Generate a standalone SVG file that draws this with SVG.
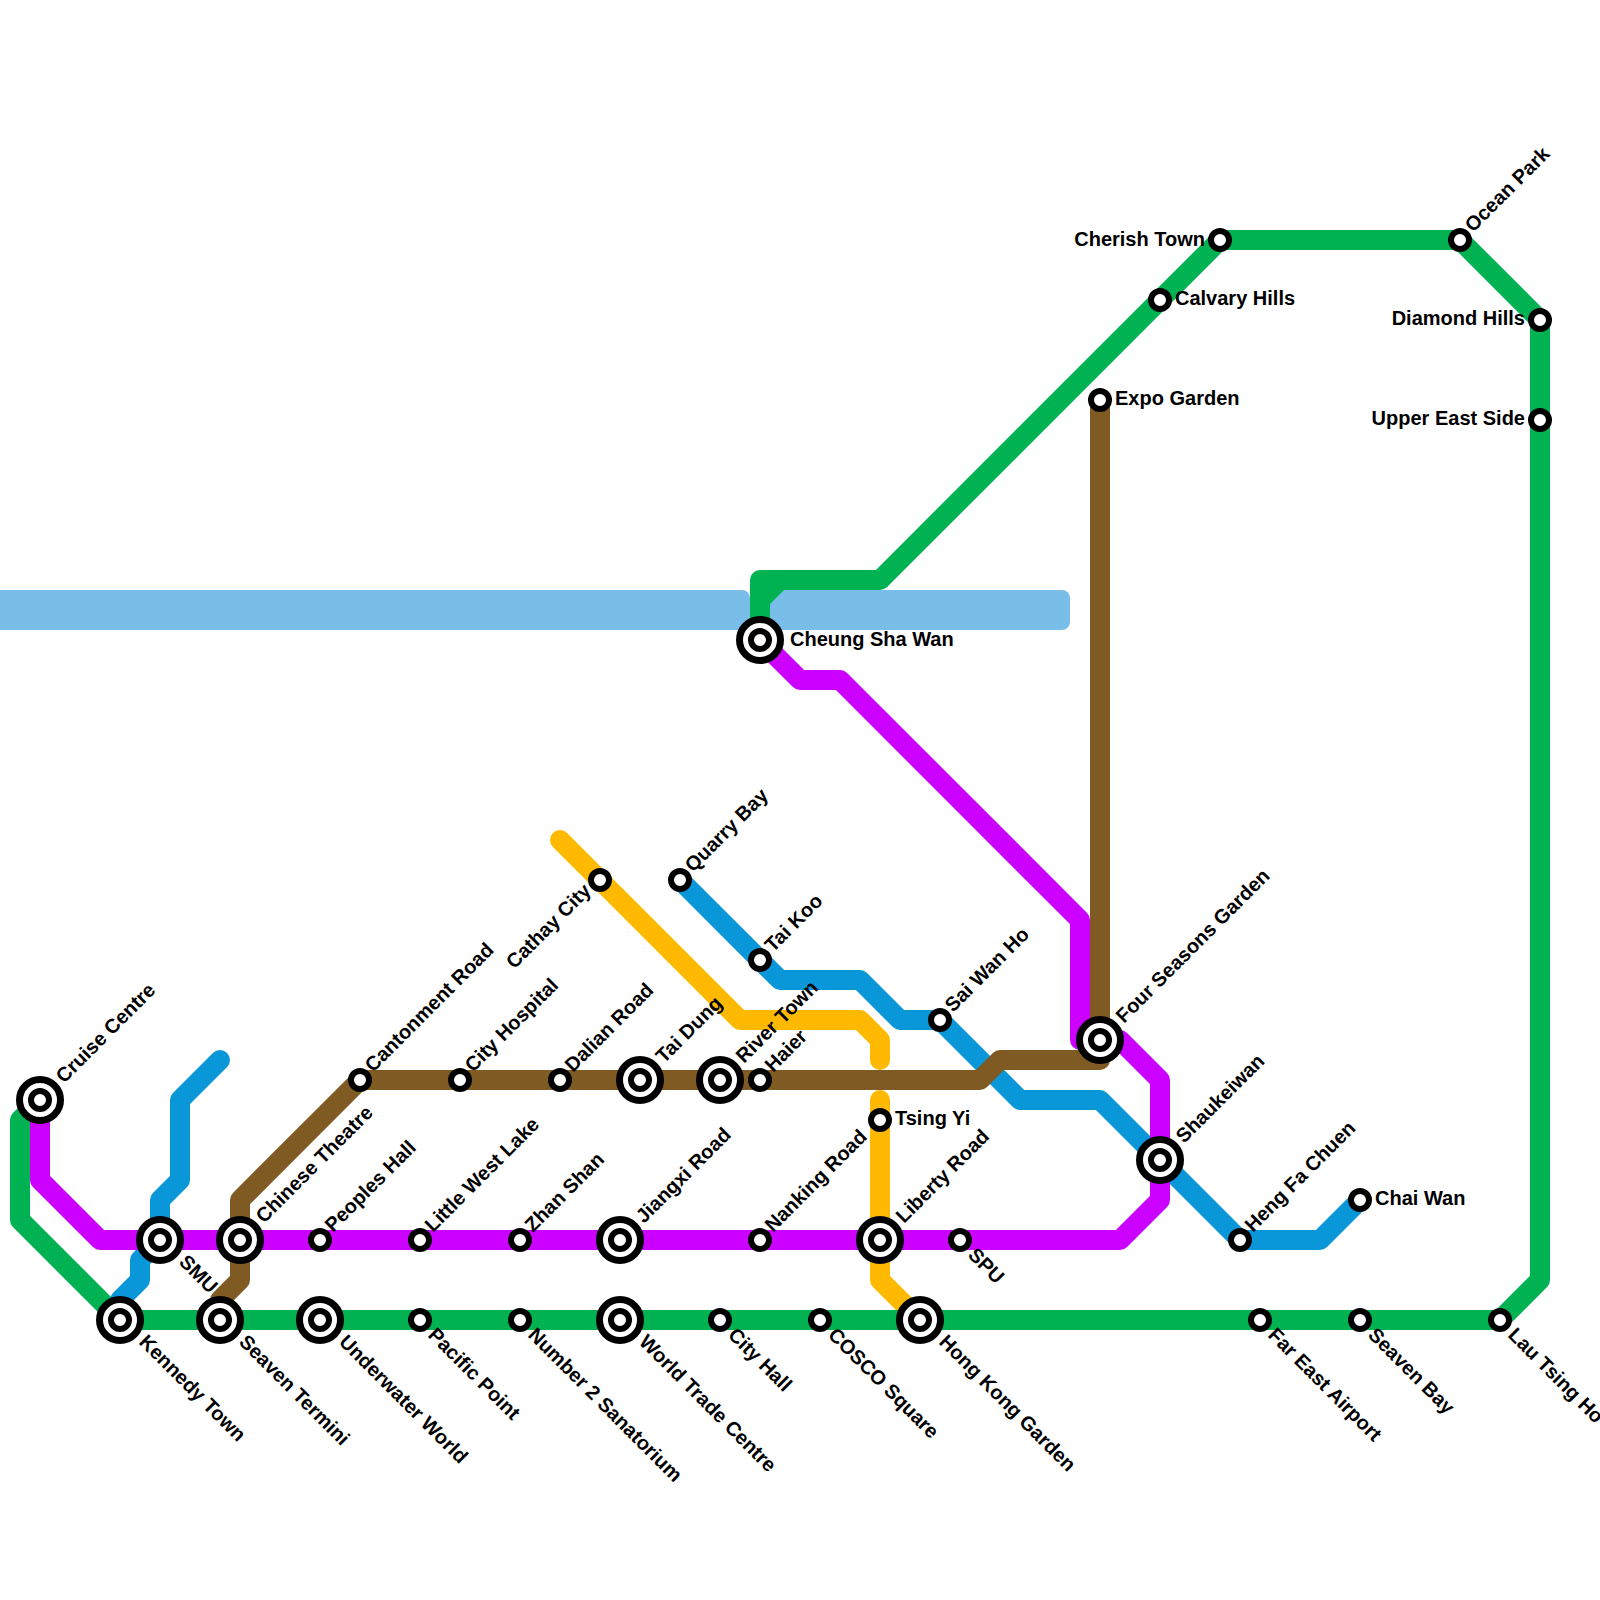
<svg xmlns="http://www.w3.org/2000/svg" width="1600" height="1600" viewBox="0 0 1600 1600">
<style>
text{font-family:"Liberation Sans",Arial,sans-serif;font-weight:700;font-size:20px;fill:#000}
.e{text-anchor:end}
.w{fill:#79bde9}
.l{fill:none;stroke-width:20;stroke-linecap:round;stroke-linejoin:round}
.g{stroke:#00b251}.p{stroke:#cc00ff}.b{stroke:#0a97d9}.n{stroke:#7f5a22}.y{stroke:#ffb900}
.r{fill:#fff;stroke:#000;stroke-width:6}
.o{fill:#fff;stroke:#000;stroke-width:7}
</style>
<defs>
<g id="S"><circle class="r" r="9"/></g>
<g id="B"><circle class="o" r="20.5"/><circle class="r" r="9"/></g>
</defs>
<g id="water"><rect class="w" x="-20" y="590" width="770" height="40" rx="8"/><rect class="w" x="750" y="590" width="320" height="40" rx="8"/></g>
<g id="connectors">
<path class="l y" d="M560 840L740 1020H860L880 1040V1060"/>
<path class="l y" d="M880 1100V1280L920 1320"/>
<path class="l g" d="M40 1100L20 1120V1220L120 1320H1500L1540 1280V320L1460 240H1220L880 580H760V640"/>
<path class="l g" d="M780 580L760 600V640"/>
<path class="l b" d="M680 880L780 980H860L900 1020H940L1020 1100H1100L1240 1240H1320L1360 1200"/>
<path class="l b" d="M220 1060L180 1100V1180L160 1200V1240L140 1260V1280L120 1300V1320"/>
<path class="l p" d="M40 1100V1180L100 1240H1120L1160 1200V1080L1120 1040H1080V920L840 680H800L760 640"/>
<path class="l n" d="M220 1320V1300L240 1280V1200L360 1080H980L1000 1060H1100V400"/>
</g>
<g id="n1"><use href="#B" x="40" y="1100"/><text transform="translate(64 1084) rotate(-45)">Cruise Centre</text></g>
<g id="n2"><use href="#B" x="120" y="1320"/><text transform="translate(138 1343) rotate(45)">Kennedy Town</text></g>
<g id="n3"><use href="#B" x="220" y="1320"/><text transform="translate(238 1343) rotate(45)">Seaven Termini</text></g>
<g id="n4"><use href="#B" x="320" y="1320"/><text transform="translate(338 1343) rotate(45)">Underwater World</text></g>
<g id="n5"><use href="#S" x="420" y="1320"/><text transform="translate(427 1336) rotate(45)">Pacific Point</text></g>
<g id="n6"><use href="#S" x="520" y="1320"/><text transform="translate(527 1336) rotate(45)">Number 2 Sanatorium</text></g>
<g id="n7"><use href="#B" x="620" y="1320"/><text transform="translate(638 1343) rotate(45)">World Trade Centre</text></g>
<g id="n8"><use href="#S" x="720" y="1320"/><text transform="translate(727 1336) rotate(45)">City Hall</text></g>
<g id="n9"><use href="#S" x="820" y="1320"/><text transform="translate(827 1336) rotate(45)">COSCO Square</text></g>
<g id="n10"><use href="#B" x="920" y="1320"/><text transform="translate(938 1343) rotate(45)">Hong Kong Garden</text></g>
<g id="n11"><use href="#S" x="1260" y="1320"/><text transform="translate(1267 1336) rotate(45)">Far East Airport</text></g>
<g id="n12"><use href="#S" x="1360" y="1320"/><text transform="translate(1367 1336) rotate(45)">Seaven Bay</text></g>
<g id="n13"><use href="#S" x="1500" y="1320"/><text transform="translate(1507 1336) rotate(45)">Lau Tsing Ho</text></g>
<g id="n14"><use href="#S" x="1460" y="240"/><text transform="translate(1473 233) rotate(-45)">Ocean Park</text></g>
<g id="n15"><use href="#S" x="1220" y="240"/><text class="e" x="1205" y="246">Cherish Town</text></g>
<g id="n16"><use href="#S" x="1160" y="300"/><text x="1175" y="305">Calvary Hills</text></g>
<g id="n17"><use href="#S" x="1100" y="400"/><text x="1115" y="405">Expo Garden</text></g>
<g id="n18"><use href="#S" x="1540" y="320"/><text class="e" x="1525" y="325">Diamond Hills</text></g>
<g id="n19"><use href="#S" x="1540" y="420"/><text class="e" x="1525" y="425">Upper East Side</text></g>
<g id="n20"><use href="#S" x="1360" y="1200"/><text x="1375" y="1205">Chai Wan</text></g>
<g id="n21"><use href="#S" x="1240" y="1240"/><text transform="translate(1253 1233) rotate(-45)">Heng Fa Chuen</text></g>
<g id="n22"><use href="#B" x="1160" y="1160"/><text transform="translate(1184 1144) rotate(-45)">Shaukeiwan</text></g>
<g id="n23"><use href="#B" x="1100" y="1040"/><text transform="translate(1124 1024) rotate(-45)">Four Seasons Garden</text></g>
<g id="n24"><use href="#S" x="940" y="1020"/><text transform="translate(953 1013) rotate(-45)">Sai Wan Ho</text></g>
<g id="n25"><use href="#S" x="880" y="1120"/><text x="895" y="1125">Tsing Yi</text></g>
<g id="n26"><use href="#B" x="880" y="1240"/><text transform="translate(904 1224) rotate(-45)">Liberty Road</text></g>
<g id="n27"><use href="#S" x="960" y="1240"/><text transform="translate(967 1256) rotate(45)">SPU</text></g>
<g id="n28"><use href="#S" x="760" y="1240"/><text transform="translate(773 1233) rotate(-45)">Nanking Road</text></g>
<g id="n29"><use href="#S" x="760" y="1080"/><text transform="translate(773 1073) rotate(-45)">Haier</text></g>
<g id="n30"><use href="#B" x="720" y="1080"/><text transform="translate(744 1064) rotate(-45)">River Town</text></g>
<g id="n31"><use href="#B" x="640" y="1080"/><text transform="translate(664 1064) rotate(-45)">Tai Dung</text></g>
<g id="n32"><use href="#S" x="560" y="1080"/><text transform="translate(573 1073) rotate(-45)">Dalian Road</text></g>
<g id="n33"><use href="#S" x="460" y="1080"/><text transform="translate(473 1073) rotate(-45)">City Hospital</text></g>
<g id="n34"><use href="#S" x="360" y="1080"/><text transform="translate(373 1073) rotate(-45)">Cantonment Road</text></g>
<g id="n35"><use href="#S" x="600" y="880"/><text class="e" transform="translate(592 892) rotate(-45)">Cathay City</text></g>
<g id="n36"><use href="#S" x="680" y="880"/><text transform="translate(693 873) rotate(-45)">Quarry Bay</text></g>
<g id="n37"><use href="#S" x="760" y="960"/><text transform="translate(773 953) rotate(-45)">Tai Koo</text></g>
<g id="n38"><use href="#B" x="760" y="640"/><text x="790" y="646">Cheung Sha Wan</text></g>
<g id="n39"><use href="#B" x="620" y="1240"/><text transform="translate(644 1224) rotate(-45)">Jiangxi Road</text></g>
<g id="n40"><use href="#S" x="520" y="1240"/><text transform="translate(533 1233) rotate(-45)">Zhan Shan</text></g>
<g id="n41"><use href="#S" x="420" y="1240"/><text transform="translate(433 1233) rotate(-45)">Little West Lake</text></g>
<g id="n42"><use href="#S" x="320" y="1240"/><text transform="translate(333 1233) rotate(-45)">Peoples Hall</text></g>
<g id="n43"><use href="#B" x="240" y="1240"/><text transform="translate(264 1224) rotate(-45)">Chinese Theatre</text></g>
<g id="n44"><use href="#B" x="160" y="1240"/><text transform="translate(178 1263) rotate(45)">SMU</text></g>
</svg>
